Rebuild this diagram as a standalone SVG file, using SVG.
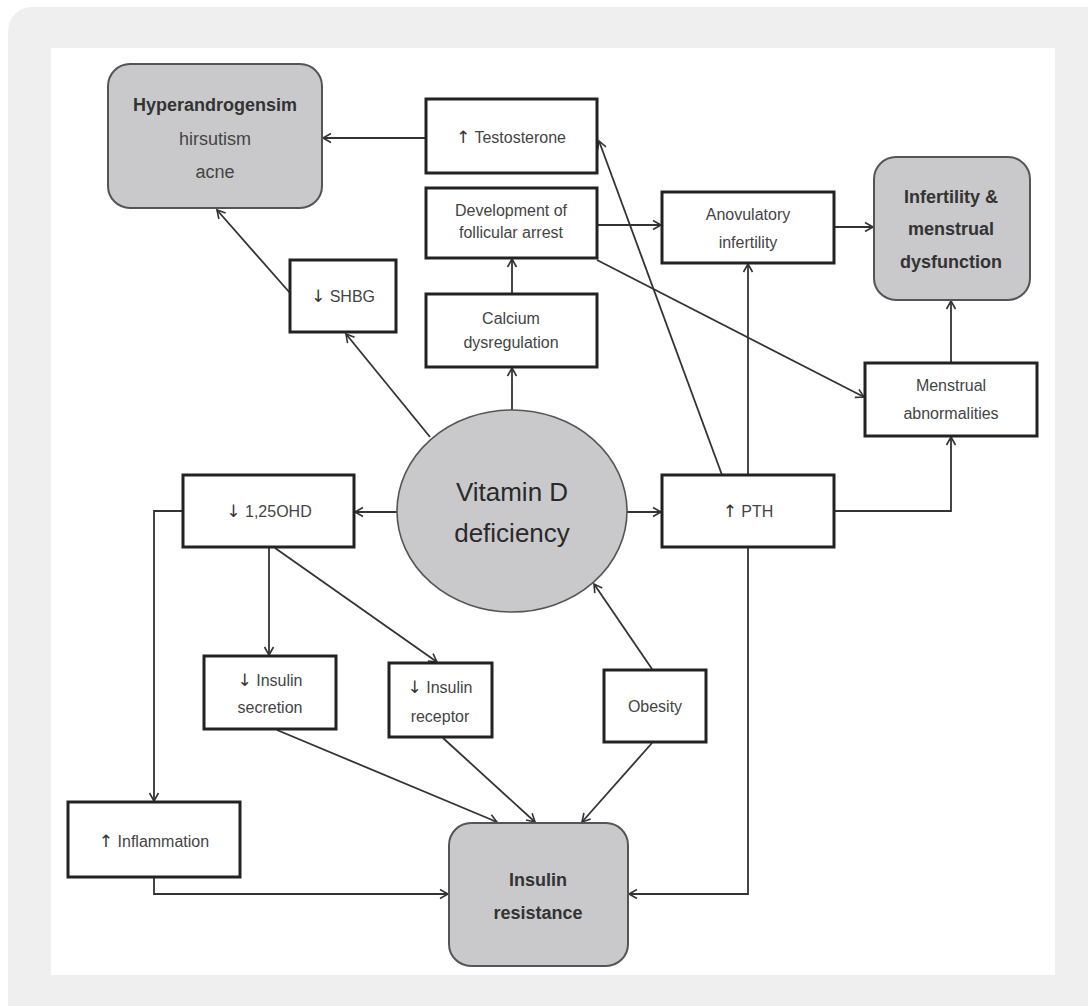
<svg xmlns="http://www.w3.org/2000/svg" width="1088" height="1006" viewBox="0 0 1088 1006">
<defs>
<marker id="arr" markerUnits="userSpaceOnUse" markerWidth="12" markerHeight="12" refX="9" refY="5" orient="auto" viewBox="0 0 12 10">
<path d="M1,0.5 L9,5 L1,9.5" fill="none" stroke="#333" stroke-width="1.6"/>
</marker>
<style>
.box{fill:#fff;stroke:#222;stroke-width:3}
.rbox{fill:#c9c9cb;stroke:#555;stroke-width:2}
.t{font-family:"Liberation Sans","DejaVu Sans",sans-serif;font-size:16px;fill:#444;text-anchor:middle}
.b{font-family:"Liberation Sans","DejaVu Sans",sans-serif;font-size:18px;font-weight:bold;fill:#333;text-anchor:middle}
.h{font-family:"Liberation Sans","DejaVu Sans",sans-serif;font-size:18px;fill:#444;text-anchor:middle}
.v{font-family:"Liberation Sans","DejaVu Sans",sans-serif;font-size:26px;fill:#2a2a2a;text-anchor:middle}
.a{font-family:"DejaVu Sans",sans-serif;font-size:17px;fill:#333}
.c{fill:none;stroke:#333;stroke-width:1.8;marker-end:url(#arr)}
</style>
</defs>
<rect x="0" y="0" width="1088" height="1006" fill="#fff"/>
<rect x="8" y="7" width="1110" height="1040" rx="24" fill="#efefef"/>
<rect x="51" y="48" width="1004" height="927" fill="#fff"/>

<g id="connectors">
<path class="c" d="M425,138 L323,138"/>
<path class="c" d="M290,293 L217,210"/>
<path class="c" d="M430,437 L346,334"/>
<path class="c" d="M512,410 L512,368"/>
<path class="c" d="M512,294 L512,259"/>
<path class="c" d="M597,225 L661,225"/>
<path class="c" d="M834,227 L873,227"/>
<path class="c" d="M597,260 L864,397"/>
<path class="c" d="M722,475 L599,141"/>
<path class="c" d="M748,475 L748,264"/>
<path class="c" d="M397,512 L355,512"/>
<path class="c" d="M627,512 L661,512"/>
<path class="c" d="M835,511 L951,511 L951,437"/>
<path class="c" d="M951,363 L951,301"/>
<path class="c" d="M183,511 L154,511 L154,801"/>
<path class="c" d="M269,547 L269,655"/>
<path class="c" d="M275,548 L437,662"/>
<path class="c" d="M652,669 L594,584"/>
<path class="c" d="M277,730 L497,822"/>
<path class="c" d="M443,738 L535,822"/>
<path class="c" d="M652,743 L582,822"/>
<path class="c" d="M154,877 L154,894 L448,894"/>
<path class="c" d="M748,547 L748,894 L629,894"/>
</g>

<g id="hyperandrogenism">
<rect class="rbox" x="108" y="64" width="214" height="144" rx="22"/>
<text class="b" x="215" y="111">Hyperandrogensim</text>
<text class="h" x="215" y="145">hirsutism</text>
<text class="h" x="215" y="178">acne</text>
</g>
<g id="testosterone">
<rect class="box" x="426" y="99" width="171" height="74"/>
<text class="t" x="511" y="143"><tspan class="a">↑</tspan> Testosterone</text>
</g>
<g id="follicular">
<rect class="box" x="426" y="188" width="171" height="70"/>
<text class="t" x="511" y="216">Development of</text>
<text class="t" x="511" y="238">follicular arrest</text>
</g>
<g id="calcium">
<rect class="box" x="426" y="294" width="171" height="73"/>
<text class="t" x="511" y="324">Calcium</text>
<text class="t" x="511" y="348">dysregulation</text>
</g>
<g id="shbg">
<rect class="box" x="290" y="260" width="106" height="72"/>
<text class="t" x="343" y="302"><tspan class="a">↓</tspan> SHBG</text>
</g>
<g id="anovulatory">
<rect class="box" x="662" y="192" width="172" height="71"/>
<text class="t" x="748" y="220">Anovulatory</text>
<text class="t" x="748" y="248">infertility</text>
</g>
<g id="infertility">
<rect class="rbox" x="874" y="157" width="156" height="143" rx="22"/>
<text class="b" x="951" y="203">Infertility &amp;</text>
<text class="b" x="951" y="235">menstrual</text>
<text class="b" x="951" y="268">dysfunction</text>
</g>
<g id="menstrual">
<rect class="box" x="865" y="363" width="172" height="73"/>
<text class="t" x="951" y="391">Menstrual</text>
<text class="t" x="951" y="419">abnormalities</text>
</g>
<g id="vitamind">
<ellipse cx="512" cy="511" rx="115" ry="101" fill="#c9c9cb" stroke="#555" stroke-width="1.6"/>
<text class="v" x="512" y="501">Vitamin D</text>
<text class="v" x="512" y="542">deficiency</text>
</g>
<g id="ohd">
<rect class="box" x="183" y="475" width="171" height="72"/>
<text class="t" x="269" y="517"><tspan class="a">↓</tspan> 1,25OHD</text>
</g>
<g id="pth">
<rect class="box" x="662" y="475" width="172" height="72"/>
<text class="t" x="748" y="517"><tspan class="a">↑</tspan> PTH</text>
</g>
<g id="secretion">
<rect class="box" x="204" y="656" width="132" height="73"/>
<text class="t" x="270" y="686"><tspan class="a">↓</tspan> Insulin</text>
<text class="t" x="270" y="713">secretion</text>
</g>
<g id="receptor">
<rect class="box" x="389" y="663" width="103" height="74"/>
<text class="t" x="440" y="693"><tspan class="a">↓</tspan> Insulin</text>
<text class="t" x="440" y="722">receptor</text>
</g>
<g id="obesity">
<rect class="box" x="604" y="670" width="102" height="72"/>
<text class="t" x="655" y="712">Obesity</text>
</g>
<g id="inflammation">
<rect class="box" x="68" y="802" width="172" height="75"/>
<text class="t" x="154" y="847"><tspan class="a">↑</tspan> Inflammation</text>
</g>
<g id="insulinresistance">
<rect class="rbox" x="449" y="823" width="179" height="143" rx="22"/>
<text class="b" x="538" y="886">Insulin</text>
<text class="b" x="538" y="919">resistance</text>
</g>
</svg>
